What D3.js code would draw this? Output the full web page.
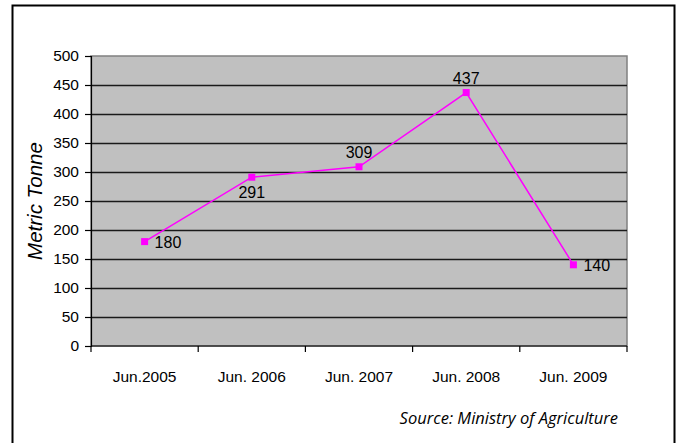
<!DOCTYPE html>
<html>
<head>
<meta charset="utf-8">
<script src="https://cdn.jsdelivr.net/npm/d3@7"></script>
<style>
  body { margin: 0; background: #fff; }
  svg text { font-family: "Liberation Sans", Arial, sans-serif; fill: #000; }
</style>
</head>
<body>
<div id="chart"></div>
<script>
// data
var categories = ['Jun.2005', 'Jun. 2006', 'Jun. 2007', 'Jun. 2008', 'Jun. 2009'];
var tonnes = [180, 291, 309, 437, 140];
var labelPos = ['right', 'below', 'above', 'above', 'right'];
var yTicks = [0, 50, 100, 150, 200, 250, 300, 350, 400, 450, 500];

var W = 680, H = 443;
var margin = {top: 56, right: 53, bottom: 97, left: 91},
    width = W - margin.left - margin.right,
    height = H - margin.top - margin.bottom;

var svg = d3.select('#chart').append('svg')
    .attr('width', W)
    .attr('height', H);

// outer frame
svg.append('rect')
    .attr('x', 12.5).attr('y', 5.5)
    .attr('width', 662).attr('height', 445)
    .attr('fill', 'none')
    .attr('stroke', '#000')
    .attr('stroke-width', 2);

var g = svg.append('g')
    .attr('transform', 'translate(' + margin.left + ',' + margin.top + ')');

var x = d3.scaleBand().domain(categories).range([0, width]).padding(0);
var y = d3.scaleLinear().domain([0, 500]).range([height, 0]);

// plot area
g.append('rect')
    .attr('width', width).attr('height', height)
    .attr('fill', '#c0c0c0')
    .attr('stroke', '#808080')
    .attr('stroke-width', 1.5);

// gridlines
g.selectAll('.grid')
    .data(yTicks.filter(function (d) { return d > 0 && d < 500; }))
    .enter().append('line')
    .attr('class', 'grid')
    .attr('x1', 0).attr('x2', width)
    .attr('y1', function (d) { return Math.round(y(d)) + 0.5; })
    .attr('y2', function (d) { return Math.round(y(d)) + 0.5; })
    .attr('stroke', '#1a1a1a')
    .attr('stroke-width', 1.6);

// y axis
var yAxis = d3.axisLeft(y).tickValues(yTicks).tickSize(6).tickPadding(6);
var ya = g.append('g').call(yAxis);
ya.select('.domain').attr('stroke', '#000').attr('stroke-width', 1.2);
ya.selectAll('.tick line').attr('stroke', '#000').attr('stroke-width', 1.2);
ya.selectAll('text').style('font-size', '15.5px').attr('fill', '#000');

// x axis: ticks at category boundaries
var xa = g.append('g').attr('transform', 'translate(0,' + height + ')');
xa.append('line')
    .attr('x1', 0).attr('x2', width)
    .attr('stroke', '#000').attr('stroke-width', 1.2);
var bounds = categories.map(function (c) { return x(c); }).concat([width]);
xa.selectAll('.xt')
    .data(bounds)
    .enter().append('line')
    .attr('class', 'xt')
    .attr('x1', function (d) { return d; }).attr('x2', function (d) { return d; })
    .attr('y1', 0).attr('y2', 6)
    .attr('stroke', '#000').attr('stroke-width', 1.2);
xa.selectAll('.xl')
    .data(categories)
    .enter().append('text')
    .attr('class', 'xl')
    .attr('x', function (d) { return x(d) + x.bandwidth() / 2; })
    .attr('y', 36)
    .attr('text-anchor', 'middle')
    .style('font-size', '15.5px')
    .text(function (d) { return d; });

// line
var cx = function (d, i) { return x(categories[i]) + x.bandwidth() / 2; };
var line = d3.line()
    .x(cx)
    .y(function (d) { return y(d); });

g.append('path')
    .datum(tonnes)
    .attr('d', line)
    .attr('fill', 'none')
    .attr('stroke', '#ff00ff')
    .attr('stroke-width', 1.5);

g.selectAll('.marker')
    .data(tonnes)
    .enter().append('rect')
    .attr('class', 'marker')
    .attr('x', function (d, i) { return cx(d, i) - 3.5; })
    .attr('y', function (d) { return y(d) - 3.5; })
    .attr('width', 7).attr('height', 7)
    .attr('fill', '#ff00ff');

// data labels
g.selectAll('.dl')
    .data(tonnes)
    .enter().append('text')
    .attr('class', 'dl')
    .attr('x', function (d, i) {
        return labelPos[i] === 'right' ? cx(d, i) + 10 : cx(d, i);
    })
    .attr('y', function (d, i) {
        if (labelPos[i] === 'above') return y(d) - 9;
        if (labelPos[i] === 'below') return y(d) + 21;
        return y(d) + 6;
    })
    .attr('text-anchor', function (d, i) { return labelPos[i] === 'right' ? 'start' : 'middle'; })
    .style('font-size', '16px')
    .text(function (d) { return d; });

// axis title
svg.append('text')
    .attr('transform', 'translate(42,' + (margin.top + height / 2) + ') rotate(-90)')
    .attr('text-anchor', 'middle')
    .style('font-size', '20.5px')
    .style('font-style', 'italic')
    .text('Metric Tonne');

// source note
svg.append('text')
    .attr('x', 618)
    .attr('y', 424)
    .attr('text-anchor', 'end')
    .style('font-family', '"Open Sans", sans-serif')
    .style('font-size', '16.5px')
    .style('font-style', 'italic')
    .text('Source: Ministry of Agriculture');
</script>
</body>
</html>
